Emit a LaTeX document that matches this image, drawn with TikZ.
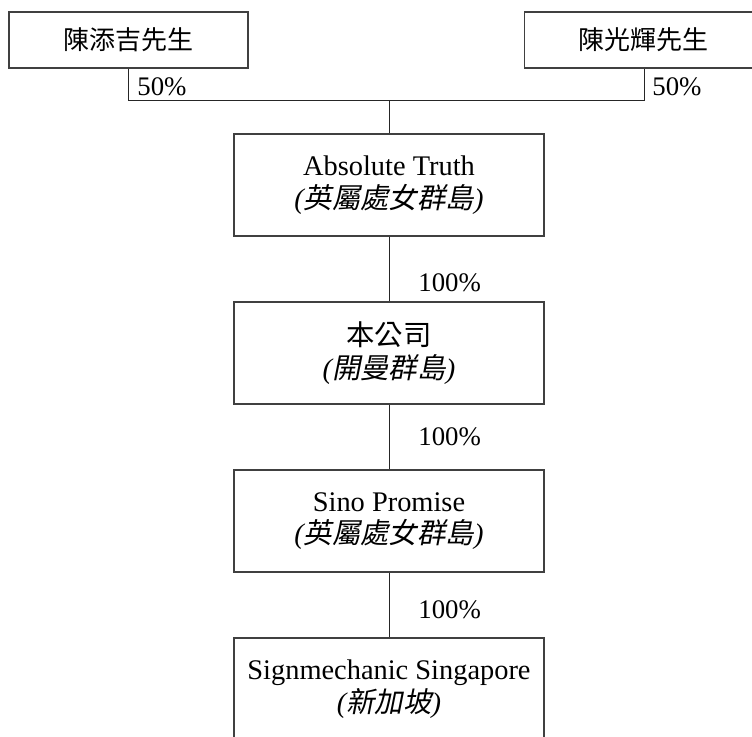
\documentclass[tikz,border=0pt]{standalone}
\usepackage{fontspec}
\setmainfont{Liberation Serif}
\newfontfamily\cjk{Noto Sans CJK TC}
\newfontfamily\cjkit{Noto Sans CJK TC}[FakeSlant=0.2]
\newcommand{\placelab}[1]{{\itshape(}{\cjkit #1}{\itshape)}}
\newcommand{\coname}[2]{#1\\ \placelab{#2}}
\tikzset{
  ownbox/.style={draw=black!75,line width=0.7pt,minimum width=119.5pt,
                 minimum height=28pt,inner sep=0pt,
                 font=\fontsize{13}{16}\selectfont\cjk},
  cobox/.style={draw=black!75,line width=0.7pt,minimum width=155pt,
                minimum height=51pt,inner sep=0pt,align=center,
                font=\fontsize{14.2}{16.2}\selectfont},
  pct/.style={anchor=base west,inner sep=0pt,font=\fontsize{13.4}{16}\selectfont},
  link/.style={draw=black!85,line width=0.5pt}
}

\begin{document}
\begin{tikzpicture}[x=0.5pt,y=-0.5pt]
 \useasboundingbox (0,0) rectangle (752,736);
 \clip (0,0) rectangle (752,736);

 % shareholders
 \draw (128.5,40) node[ownbox] (tan1) {陳添吉先生};
 \draw (644,40)   node[ownbox] (tan2) {陳光輝先生};

 % group companies
 \draw (389,185) node[cobox] (abs)  {\coname{Absolute Truth}{英屬處女群島}};
 \draw (389,353) node[cobox] (comp) {{\cjk 本公司}\\ \placelab{開曼群島}};
 \draw (389,521) node[cobox] (sino) {\coname{Sino Promise}{英屬處女群島}};
 \draw (389,689) node[cobox] (sig)  {\coname{Signmechanic Singapore}{新加坡}};

 \coordinate (jn) at (389,100);

 \draw[link] (tan1.south) |- (jn) -| (tan2.south);
 \draw[link] (jn) -- (abs.north);
 \draw[link] (abs.south) -- (comp.north);
 \draw[link] (comp.south) -- (sino.north);
 \draw[link] (sino.south) -- (sig.north);

 % holdings
 \node[pct] (p1) at (137,95)  {50\%};
 \node[pct] (p2) at (652,95)  {50\%};
 \node[pct] (p3) at (418,291) {100\%};
 \node[pct] (p4) at (418,445) {100\%};
 \node[pct] (p5) at (418,618) {100\%};

\end{tikzpicture}
\end{document}
